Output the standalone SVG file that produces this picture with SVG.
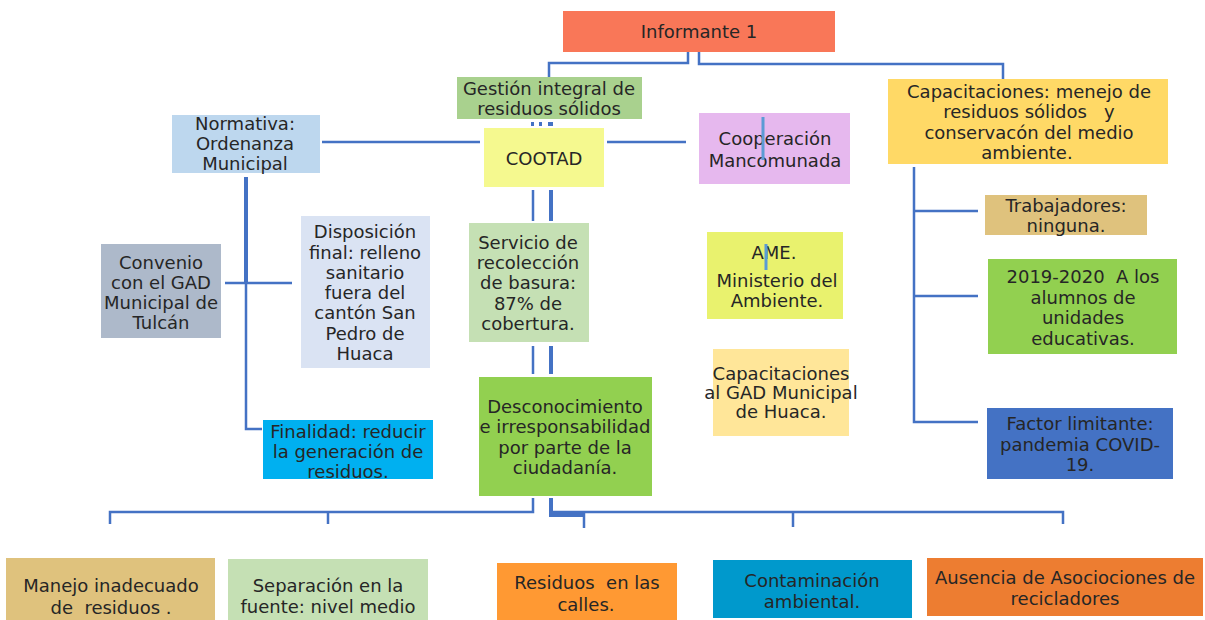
<svg xmlns="http://www.w3.org/2000/svg" width="1205" height="620" viewBox="0 0 1205 620">
<style>
text{font-family:"DejaVu Sans","Liberation Sans",sans-serif;font-size:18px;fill:#262626;text-anchor:middle;dominant-baseline:central}
.c{fill:none;stroke:#4472C4;stroke-width:2.5}
.k{fill:none;stroke:#4472C4;stroke-width:4}
.cur{stroke:#5B9BD5;stroke-width:3}
</style>
<rect width="1205" height="620" fill="#fff"/>
<g id="connectors">
<path class="c" d="M688,52V63H549V77"/>
<path class="c" d="M699,52V64H1003V79"/>
<path class="c" d="M322,142H480"/>
<path class="c" d="M607,142H686"/>
<rect x="531" y="122" width="3" height="4" fill="#4472C4"/>
<rect x="539" y="122" width="3" height="4" fill="#4472C4"/>
<rect x="548" y="122" width="5" height="4" fill="#4472C4"/>
<path class="c" d="M533,190V221"/>
<path class="k" d="M551,190V221"/>
<path class="c" d="M533,346V374"/>
<path class="k" d="M551,346V374"/>
<path class="c" d="M533,498V512H110V524"/>
<path class="c" d="M328,512V524"/>
<path class="k" d="M551,498V515H583"/>
<path class="c" d="M551,512H1063V524"/>
<path class="c" d="M584,512V528"/>
<path class="c" d="M793,512V527"/>
<path class="k" d="M246,177V283"/>
<path class="c" d="M246,283V429H262"/>
<path class="c" d="M225,283H292"/>
<path class="c" d="M914,167V422H978"/>
<path class="c" d="M914,211H978"/>
<path class="c" d="M914,296H978"/>
</g>
<g id="informante"><rect x="563" y="11" width="272" height="41" fill="#F97758"/><text x="699" y="31" font-size="17.5">Informante 1</text></g>
<g id="gestion"><rect x="457" y="77" width="185" height="42" fill="#A9D18E"/><text x="549" y="88">Gestión integral de</text><text x="549" y="108">residuos sólidos</text></g>
<g id="cootad"><rect x="484" y="128" width="120" height="59" fill="#F5F98F"/><text x="544" y="158" font-size="15.5">COOTAD</text></g>
<g id="cooperacion"><rect x="699" y="113" width="151" height="71" fill="#E6B8EE"/><text x="775" y="138" font-size="19.5">Cooperación</text><text x="775" y="160" font-size="19.5">Mancomunada</text><line class="cur" x1="763" y1="117" x2="763" y2="160"/></g>
<g id="normativa"><rect x="172" y="115" width="148" height="58" fill="#BDD7EE"/><text x="245" y="123" font-size="19">Normativa:</text><text x="245" y="143" font-size="19">Ordenanza</text><text x="245" y="163" font-size="19">Municipal</text></g>
<g id="convenio"><rect x="101" y="244" width="120" height="94" fill="#ADB9CA"/><text x="161" y="262">Convenio</text><text x="161" y="282">con el GAD</text><text x="161" y="302">Municipal de</text><text x="161" y="322">Tulcán</text></g>
<g id="disposicion"><rect x="301" y="216" width="129" height="152" fill="#DAE3F3"/><text x="365" y="231" font-size="17.5">Disposición</text><text x="365" y="252" font-size="17.5">final: relleno</text><text x="365" y="272" font-size="17.5">sanitario</text><text x="365" y="292" font-size="17.5">fuera del</text><text x="365" y="312" font-size="17.5">cantón San</text><text x="365" y="333" font-size="17.5">Pedro de</text><text x="365" y="353" font-size="17.5">Huaca</text></g>
<g id="servicio"><rect x="469" y="223" width="120" height="119" fill="#C5E0B4"/><text x="528" y="242" font-size="19">Servicio de</text><text x="528" y="262" font-size="19">recolección</text><text x="528" y="282" font-size="19">de basura:</text><text x="528" y="303" font-size="19">87% de</text><text x="528" y="323" font-size="19">cobertura.</text></g>
<g id="desconocimiento"><rect x="479" y="377" width="173" height="119" fill="#92D050"/><text x="565" y="406" font-size="18.5">Desconocimiento</text><text x="565" y="426" font-size="18.5">e irresponsabilidad</text><text x="565" y="447" font-size="18.5">por parte de la</text><text x="565" y="467" font-size="18.5">ciudadanía.</text></g>
<g id="ame"><rect x="707" y="232" width="136" height="87" fill="#E9F26E"/><text x="774" y="252">AME.</text><text x="777" y="280">Ministerio del</text><text x="777" y="300">Ambiente.</text><line class="cur" x1="766" y1="244" x2="766" y2="270"/></g>
<g id="capgad"><rect x="713" y="349" width="136" height="87" fill="#FFE699"/><text x="781" y="373" font-size="14.5">Capacitaciones</text><text x="781" y="392" font-size="14.5">al GAD Municipal</text><text x="781" y="411" font-size="14.5">de Huaca.</text></g>
<g id="finalidad"><rect x="263" y="420" width="170" height="59" fill="#00B0F0"/><text x="348" y="431">Finalidad: reducir</text><text x="348" y="451">la generación de</text><text x="348" y="471">residuos.</text></g>
<g id="capacitaciones"><rect x="888" y="79" width="280" height="85" fill="#FFD966"/><text x="1029" y="91" font-size="19">Capacitaciones: menejo de</text><text x="1029" y="111" font-size="19" xml:space="preserve">residuos sólidos   y</text><text x="1029" y="132" font-size="19">conservacón del medio</text><text x="1027" y="152" font-size="19">ambiente.</text></g>
<g id="trabajadores"><rect x="985" y="195" width="162" height="40" fill="#DFC27D"/><text x="1066" y="205" font-size="17">Trabajadores:</text><text x="1066" y="225" font-size="17">ninguna.</text></g>
<g id="alumnos"><rect x="988" y="259" width="189" height="95" fill="#92D050"/><text x="1083" y="276" xml:space="preserve">2019-2020  A los</text><text x="1083" y="297">alumnos de</text><text x="1083" y="317">unidades</text><text x="1083" y="338">educativas.</text></g>
<g id="factor"><rect x="987" y="408" width="186" height="71" fill="#4472C4"/><text x="1080" y="423" font-size="18.5">Factor limitante:</text><text x="1080" y="444" font-size="18.5">pandemia COVID-</text><text x="1080" y="464" font-size="18.5">19.</text></g>
<g id="manejo"><rect x="6" y="558" width="209" height="62" fill="#DFC27D"/><text x="111" y="585">Manejo inadecuado</text><text x="111" y="607" xml:space="preserve">de  residuos .</text></g>
<g id="separacion"><rect x="228" y="559" width="200" height="61" fill="#C5E0B4"/><text x="328" y="585">Separación en la</text><text x="328" y="606">fuente: nivel medio</text></g>
<g id="residuos"><rect x="497" y="563" width="180" height="57" fill="#FF9933"/><text x="587" y="582" xml:space="preserve">Residuos  en las</text><text x="586" y="604">calles.</text></g>
<g id="contaminacion"><rect x="713" y="560" width="199" height="58" fill="#0099CC"/><text x="812" y="580" font-size="19">Contaminación</text><text x="812" y="601" font-size="19">ambiental.</text></g>
<g id="ausencia"><rect x="927" y="558" width="276" height="58" fill="#ED7D31"/><text x="1065" y="577">Ausencia de Asociociones de</text><text x="1065" y="598">recicladores</text></g>
</svg>
